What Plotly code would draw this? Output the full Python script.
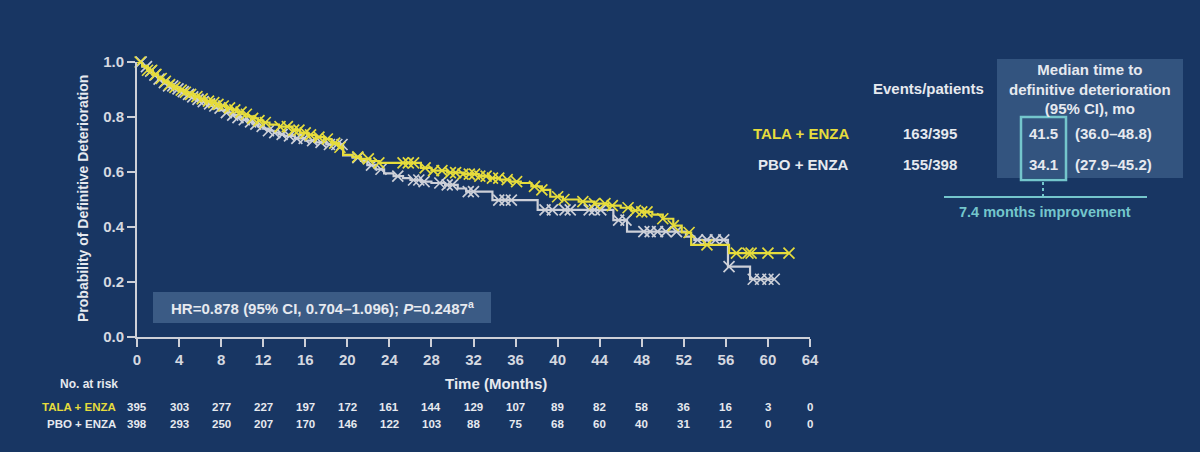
import plotly.graph_objects as go

# ---------------- data ----------------
tala_times = [0, 0.5, 1.0, 1.5, 2.0, 2.5, 3.0, 3.5, 4.0, 4.5, 5.0, 5.5, 6.0, 6.5, 7.0, 7.5, 8.0, 8.5, 9.0, 9.5,
              10.0, 10.5, 11.0, 11.5, 12.0, 12.6, 13.5, 14.8, 15.5, 16.3, 17.0, 17.8, 18.5, 19.2, 19.6, 20.5,
              21.3, 22.2, 23.0, 27.0, 28.0, 29.5, 31.0, 32.5, 33.5, 34.5, 35.5, 36.5, 37.5, 38.5, 39.3, 40.5,
              42.0, 43.5, 44.8, 46.0, 47.0, 48.0, 49.0, 50.0, 51.0, 51.8, 52.7, 56.3, 62.0]
tala_surv = [1.0, 0.985, 0.97, 0.955, 0.94, 0.93, 0.918, 0.908, 0.898, 0.89, 0.882, 0.874, 0.866, 0.858, 0.852, 0.846,
             0.84, 0.833, 0.826, 0.818, 0.81, 0.802, 0.795, 0.787, 0.78, 0.772, 0.765, 0.752, 0.742, 0.735, 0.727,
             0.72, 0.705, 0.69, 0.662, 0.655, 0.648, 0.64, 0.633, 0.615, 0.605, 0.598, 0.592, 0.585, 0.578, 0.572,
             0.565, 0.56, 0.548, 0.535, 0.51, 0.5, 0.492, 0.485, 0.478, 0.47, 0.46, 0.455, 0.445, 0.43, 0.405,
             0.38, 0.335, 0.305, 0.305]
tala_cens = [0.3, 1.0, 1.4, 1.8, 2.3, 2.7, 3.1, 3.6, 4.2, 4.6, 5.1, 5.7, 6.2, 6.8, 7.3, 7.7, 8.2, 8.8, 9.3, 9.9,
             10.4, 11.0, 11.6, 12.2, 13.6, 14.3, 14.9, 15.4, 16.0, 16.5, 17.3, 18.1, 18.8, 19.3, 21.0, 22.0, 23.0,
             25.3, 25.8, 26.3, 27.4, 28.2, 29.0, 29.8, 30.3, 31.0, 31.6, 32.1, 32.6, 33.2, 33.8, 34.4, 35.2, 36.1,
             37.8, 38.5, 40.0, 40.6, 42.4, 43.5, 44.5, 45.2, 46.7, 47.4, 48.0, 48.5, 50.0, 51.0, 52.5, 54.2,
             57.0, 58.1, 58.4, 60.0, 62.0]

pbo_times = [0, 0.5, 1, 1.5, 2, 2.5, 3, 3.5, 4, 4.5, 5, 5.5, 6, 6.5, 7, 7.5, 8, 8.5, 9, 9.5, 10, 10.5, 11, 11.5,
             12, 12.5, 13, 13.5, 14, 15, 16, 17, 18, 19.6, 20.5, 21.3, 21.9, 22.7, 23.5, 24.4, 25.3, 26.0, 27.0,
             28.0, 29.3, 30.5, 31.3, 33.8, 38.1, 45.3, 46.6, 52.2, 53.0, 56.2, 58.3, 60.6]
pbo_surv = [1.0, 0.983, 0.967, 0.952, 0.938, 0.925, 0.913, 0.902, 0.892, 0.882, 0.873, 0.864, 0.856, 0.848, 0.84,
            0.832, 0.825, 0.816, 0.807, 0.798, 0.79, 0.782, 0.774, 0.766, 0.758, 0.75, 0.743, 0.737, 0.731, 0.722,
            0.714, 0.708, 0.70, 0.66, 0.652, 0.64, 0.625, 0.61, 0.595, 0.585, 0.578, 0.571, 0.565, 0.56, 0.553,
            0.54, 0.529, 0.498, 0.462, 0.425, 0.383, 0.365, 0.353, 0.256, 0.21, 0.21]
pbo_cens = [0.4, 0.9, 1.3, 1.7, 2.1, 2.6, 3.0, 3.4, 3.9, 4.4, 4.9, 5.3, 5.8, 6.3, 6.9, 7.4, 7.9, 8.5, 9.1, 9.6,
            10.2, 10.8, 11.3, 11.9, 12.5, 13.1, 13.8, 14.5, 15.2, 15.9, 16.7, 17.5, 18.3, 19.0, 19.5, 21.0, 22.3,
            23.2, 24.8, 26.3, 26.8, 27.3, 28.8, 29.5, 30.0, 31.5, 32.0, 34.4, 35.0, 35.6, 38.8, 39.5, 40.7, 41.2,
            43.0, 43.5, 44.1, 45.8, 46.5, 48.2, 48.8, 49.5, 50.3, 51.3, 53.3, 54.2, 55.0, 55.8, 56.3, 58.6, 59.3,
            60.0, 60.6]

risk_times = [0, 4, 8, 12, 16, 20, 24, 28, 32, 36, 40, 44, 48, 52, 56, 60, 64]
risk_tala = [395, 303, 277, 227, 197, 172, 161, 144, 129, 107, 89, 82, 58, 36, 16, 3, 0]
risk_pbo = [398, 293, 250, 207, 170, 146, 122, 103, 88, 75, 68, 60, 40, 31, 12, 0, 0]

arm_names = ["TALA + ENZA", "PBO + ENZA"]
events = ["163/395", "155/398"]
medians = ["41.5", "34.1"]
median_ci = ["(36.0–48.8)", "(27.9–45.2)"]

# ---------------- style ----------------
BG = "#183663"
YEL = "#e6dc3c"
GRY = "#cdd0d8"
TXT = "#e6e9ef"
TEAL = "#74c6cc"
FONT = "Liberation Sans, Arial, sans-serif"


def px(x):
    return (x - 137) / 673.0


def py(y):
    return (337 - y) / 275.0


def surv_at(times, surv, t):
    s = surv[0]
    for ti, si in zip(times, surv):
        if ti <= t:
            s = si
    return s


fig = go.Figure()

for times, surv, cens, col in [(pbo_times, pbo_surv, pbo_cens, GRY), (tala_times, tala_surv, tala_cens, YEL)]:
    fig.add_trace(go.Scatter(x=times, y=surv, mode="lines", line=dict(color=col, width=2.2, shape="hv"),
                             cliponaxis=False, showlegend=False, hoverinfo="skip"))
    fig.add_trace(go.Scatter(x=cens, y=[surv_at(times, surv, t) for t in cens], mode="markers",
                             marker=dict(symbol="x-thin", size=11, line=dict(color=col, width=1.7)),
                             cliponaxis=False, showlegend=False, hoverinfo="skip"))

shapes = [
    dict(type="rect", xref="paper", yref="paper", x0=px(153), x1=px(491), y0=py(323), y1=py(292),
         fillcolor="#3b5b85", line=dict(width=0), layer="below"),
    dict(type="rect", xref="paper", yref="paper", x0=px(997), x1=px(1183), y0=py(178), y1=py(59),
         fillcolor="#33547f", line=dict(width=0), layer="below"),
    dict(type="rect", xref="paper", yref="paper", x0=px(1021), x1=px(1066), y0=py(180), y1=py(117),
         fillcolor="rgba(0,0,0,0)", line=dict(color=TEAL, width=2.5)),
    dict(type="line", xref="paper", yref="paper", x0=px(1043), x1=px(1043), y0=py(182), y1=py(196),
         line=dict(color=TEAL, width=2, dash="dot")),
    dict(type="line", xref="paper", yref="paper", x0=px(944), x1=px(1147), y0=py(197), y1=py(197),
         line=dict(color=TEAL, width=2)),
]

ann = []


def A(text, x, y, size=15, color=TXT, xanchor="center", **kw):
    ann.append(dict(text=text, x=px(x), y=py(y), xref="paper", yref="paper", showarrow=False,
                    xanchor=xanchor, yanchor="middle", font=dict(family=FONT, size=size, color=color), **kw))


A("<b>Probability of Definitive Deterioration</b>", 83, 199, size=14, textangle=-90)
A("<b>Time (Months)</b>", 496, 383, size=15)
A("<b>HR=0.878 (95% CI, 0.704–1.096); <i>P</i>=0.2487<sup>a</sup></b>", 322, 307, size=15)
A("<b>No. at risk</b>", 58, 384, size=12, xanchor="left")
A("<b>" + arm_names[0] + "</b>", 118, 407, size=11.5, color=YEL, xanchor="right")
A("<b>" + arm_names[1] + "</b>", 118, 424, size=11.5, xanchor="right")
for t, a, b in zip(risk_times, risk_tala, risk_pbo):
    for val, yy in [(a, 407), (b, 424)]:
        ann.append(dict(text="<b>%d</b>" % val, x=t, y=py(yy), xref="x", yref="paper", showarrow=False,
                        xanchor="center", yanchor="middle", font=dict(family=FONT, size=11.5, color=TXT)))

A("<b>Events/patients</b>", 928, 88, size=15)
A("<b>Median time to<br>definitive deterioration<br>(95% CI), mo</b>", 1090, 89, size=15)
for i, yy in enumerate([133, 164]):
    A("<b>" + arm_names[i] + "</b>", 851, yy, size=15, color=YEL if i == 0 else TXT, xanchor="right")
    A("<b>" + events[i] + "</b>", 930, yy, size=15)
    A("<b>" + medians[i] + "</b>", 1043, yy, size=15)
    A("<b>" + median_ci[i] + "</b>", 1113, yy, size=15)
A("<b>7.4 months improvement</b>", 1045, 212, size=14.5, color=TEAL)

fig.update_layout(
    width=1200, height=452, margin=dict(l=137, r=390, t=62, b=115),
    paper_bgcolor=BG, plot_bgcolor=BG, shapes=shapes, annotations=ann,
    font=dict(family=FONT, color=TXT),
    xaxis=dict(range=[0, 64], tickvals=risk_times, ticktext=["<b>%d</b>" % v for v in risk_times],
               showgrid=False, zeroline=False, showline=True, linecolor=GRY, linewidth=2,
               ticks="outside", ticklen=8, tickwidth=2, tickcolor=GRY,
               tickfont=dict(family=FONT, size=15, color="#d5d9e0")),
    yaxis=dict(range=[0, 1], tickvals=[0, 0.2, 0.4, 0.6, 0.8, 1.0],
               ticktext=["<b>0.0</b>", "<b>0.2</b>", "<b>0.4</b>", "<b>0.6</b>", "<b>0.8</b>", "<b>1.0</b>"],
               showgrid=False, zeroline=False, showline=True, linecolor=GRY, linewidth=2,
               ticks="outside", ticklen=8, tickwidth=2, tickcolor=GRY,
               tickfont=dict(family=FONT, size=15, color="#d5d9e0")),
)

fig.write_html("out.html")
